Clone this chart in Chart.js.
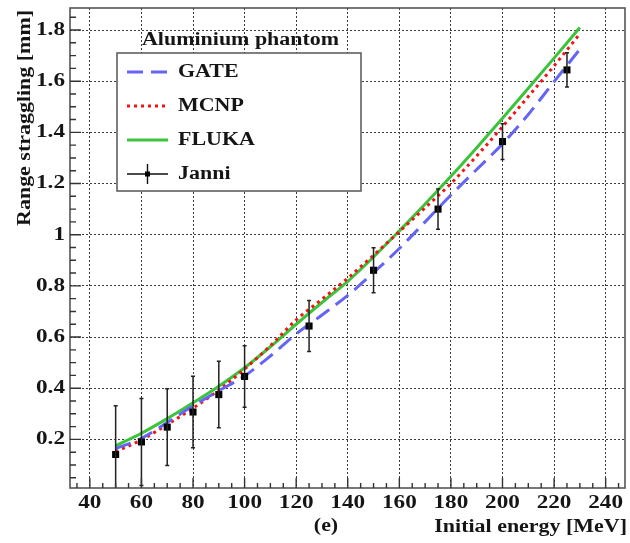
<!DOCTYPE html>
<html lang="en">
<head>
    <meta charset="UTF-8">
    <title>Range straggling - Aluminium phantom</title>
    <script src="https://cdn.jsdelivr.net/npm/chart.js"></script>
    <style>
        body {
            margin: 0;
            padding: 0;
            background: #ffffff;
        }

        #chartBox {
            width: 630px;
            height: 543px;
            position: relative;
        }
    </style>
</head>
<body>
    <div id="chartBox">
        <canvas id="stragglingChart"></canvas>
    </div>

    <script>
        // energies for the simulated curves [MeV]
        const energies = [50, 60, 70, 80, 90, 100, 110, 120, 130, 140, 150, 160, 170, 180, 190, 200, 210, 220, 230];
        const gateValues = [0.164, 0.204, 0.266, 0.331, 0.390, 0.448, 0.526, 0.612, 0.686, 0.763, 0.852, 0.946, 1.050, 1.155, 1.255, 1.355, 1.470, 1.598, 1.725];
        const mcnpValues = [0.152, 0.198, 0.258, 0.322, 0.393, 0.475, 0.566, 0.667, 0.748, 0.830, 0.920, 1.012, 1.105, 1.200, 1.308, 1.422, 1.540, 1.660, 1.785];
        const flukaValues = [0.175, 0.224, 0.281, 0.343, 0.408, 0.480, 0.562, 0.650, 0.735, 0.818, 0.913, 1.015, 1.120, 1.228, 1.340, 1.455, 1.572, 1.690, 1.810];

        // Janni tables with errors
        const janniEnergies = [50, 60, 70, 80, 90, 100, 125, 150, 175, 200, 225];
        const janniValues = [0.141, 0.190, 0.248, 0.307, 0.375, 0.446, 0.643, 0.861, 1.100, 1.364, 1.644];
        const janniErrors = [0.19, 0.17, 0.15, 0.14, 0.13, 0.12, 0.10, 0.088, 0.079, 0.07, 0.067];

        const xTicks = [40, 60, 80, 100, 120, 140, 160, 180, 200, 220, 240];
        const yTicks = [0.2, 0.4, 0.6, 0.8, 1, 1.2, 1.4, 1.6, 1.8];
        const yTickLabels = ['0.2', '0.4', '0.6', '0.8', '1', '1.2', '1.4', '1.6', '1.8'];

        const seriesNames = ['GATE', 'MCNP', 'FLUKA', 'Janni'];

        const toPoints = (xs, ys) => xs.map((x, i) => ({ x: x, y: ys[i] }));

        const SERIF = '"Liberation Serif", "Times New Roman", serif';
        const STRETCH = 1.22;

        function wideText(ctx, txt, x, y, align, size, rot) {
            ctx.save();
            ctx.translate(x, y);
            if (rot) ctx.rotate(rot);
            ctx.scale(STRETCH, 1);
            ctx.font = 'bold ' + size + 'px ' + SERIF;
            ctx.textAlign = align;
            ctx.textBaseline = 'middle';
            ctx.fillStyle = '#151515';
            ctx.fillText(txt, 0, 0);
            ctx.restore();
        }

        // ROOT-like frame, inner ticks, error bars, labels and legend
        const rootStyle = {
            id: 'rootStyle',
            afterDatasetsDraw(chart) {
                const ctx = chart.ctx;
                const area = chart.chartArea;
                const xs = chart.scales.x;
                const ys = chart.scales.y;

                // error bars for Janni
                ctx.save();
                ctx.beginPath();
                ctx.rect(area.left, area.top, area.right - area.left, area.bottom - area.top);
                ctx.clip();
                ctx.strokeStyle = '#222';
                ctx.lineWidth = 1.5;
                janniEnergies.forEach((e, i) => {
                    const px = xs.getPixelForValue(e);
                    const top = ys.getPixelForValue(janniValues[i] + janniErrors[i]);
                    const bot = ys.getPixelForValue(janniValues[i] - janniErrors[i]);
                    ctx.beginPath();
                    ctx.moveTo(px, top);
                    ctx.lineTo(px, bot);
                    ctx.moveTo(px - 2, top);
                    ctx.lineTo(px + 2, top);
                    ctx.moveTo(px - 2, bot);
                    ctx.lineTo(px + 2, bot);
                    ctx.stroke();
                });
                ctx.restore();

                // frame
                ctx.save();
                ctx.strokeStyle = '#555';
                ctx.lineWidth = 1.6;
                ctx.strokeRect(area.left, area.top, area.right - area.left, area.bottom - area.top);

                // inner ticks
                ctx.strokeStyle = '#333';
                ctx.lineWidth = 1.4;
                ctx.beginPath();
                for (let v = 35; v <= xs.max; v += 5) {
                    const px = xs.getPixelForValue(v);
                    const len = (v % 20 === 0) ? 10 : 5;
                    ctx.moveTo(px, area.bottom);
                    ctx.lineTo(px, area.bottom - len);
                }
                for (let k = 1; k * 0.05 <= ys.max; k++) {
                    const py = ys.getPixelForValue(k * 0.05);
                    const len = (k % 4 === 0) ? 11 : 6;
                    ctx.moveTo(area.left, py);
                    ctx.lineTo(area.left + len, py);
                }
                ctx.stroke();
                ctx.restore();

                // tick labels
                xTicks.forEach(v => {
                    wideText(ctx, String(v), xs.getPixelForValue(v), 503, 'center', 19);
                });
                yTicks.forEach((v, i) => {
                    wideText(ctx, yTickLabels[i], 65, ys.getPixelForValue(v), 'right', 19);
                });

                // axis titles
                wideText(ctx, 'Initial energy [MeV]', 627, 527, 'right', 18);
                wideText(ctx, '(e)', 326, 526, 'center', 18);
                wideText(ctx, 'Range straggling [mm]', 25, 10, 'right', 18, -Math.PI / 2);

                // legend
                wideText(ctx, 'Aluminium phantom', 142, 40, 'left', 18);
                ctx.save();
                ctx.fillStyle = '#ffffff';
                ctx.fillRect(117, 53, 244, 138);
                ctx.strokeStyle = '#555';
                ctx.lineWidth = 1.5;
                ctx.strokeRect(117, 53, 244, 138);
                ctx.restore();

                const rowY = [72, 106, 140, 174];
                chart.data.datasets.forEach((ds, i) => {
                    const y = rowY[i];
                    ctx.save();
                    if (ds.showLine === false) {
                        ctx.strokeStyle = '#111';
                        ctx.lineWidth = 1.4;
                        ctx.beginPath();
                        ctx.moveTo(127, y);
                        ctx.lineTo(168, y);
                        ctx.moveTo(147.5, y - 10);
                        ctx.lineTo(147.5, y + 10);
                        ctx.stroke();
                        ctx.fillStyle = '#000';
                        ctx.fillRect(145, y - 2.5, 5, 5);
                    } else {
                        ctx.strokeStyle = ds.borderColor;
                        ctx.lineWidth = ds.borderWidth;
                        ctx.setLineDash(ds.borderDash || []);
                        ctx.beginPath();
                        ctx.moveTo(127, y);
                        ctx.lineTo(168, y);
                        ctx.stroke();
                    }
                    ctx.restore();
                    wideText(ctx, ds.label, 178, y, 'left', 18);
                });
            }
        };

        const chartCanvas = document.getElementById('stragglingChart').getContext('2d');
        const stragglingChart = new Chart(chartCanvas, {
            type: 'line',
            data: {
                datasets: [
                    {
                        label: seriesNames[0],
                        data: toPoints(energies, gateValues),
                        borderColor: 'rgb(100, 100, 245)',
                        borderWidth: 3,
                        borderDash: [16, 8],
                        pointRadius: 0,
                        cubicInterpolationMode: 'monotone',
                        order: 1
                    },
                    {
                        label: seriesNames[1],
                        data: toPoints(energies, mcnpValues),
                        borderColor: 'rgb(240, 20, 20)',
                        borderWidth: 3,
                        borderDash: [3, 4],
                        pointRadius: 0,
                        cubicInterpolationMode: 'monotone',
                        order: 2
                    },
                    {
                        label: seriesNames[2],
                        data: toPoints(energies, flukaValues),
                        borderColor: 'rgb(60, 195, 60)',
                        borderWidth: 3,
                        pointRadius: 0,
                        cubicInterpolationMode: 'monotone',
                        order: 3
                    },
                    {
                        label: seriesNames[3],
                        data: toPoints(janniEnergies, janniValues),
                        showLine: false,
                        pointStyle: 'rect',
                        pointRadius: 5,
                        backgroundColor: '#000',
                        borderColor: '#000',
                        borderWidth: 0,
                        order: 0
                    }
                ]
            },
            options: {
                responsive: true,
                maintainAspectRatio: false,
                animation: false,
                layout: {
                    padding: { top: 8, right: 3, left: 0, bottom: 0 }
                },
                plugins: {
                    legend: { display: false },
                    tooltip: { enabled: false }
                },
                scales: {
                    x: {
                        type: 'linear',
                        min: 32.3,
                        max: 247.5,
                        afterBuildTicks: scale => {
                            scale.ticks = xTicks.map(v => ({ value: v }));
                        },
                        afterFit: scale => {
                            scale.height = 55;
                        },
                        ticks: { display: false },
                        grid: {
                            color: '#3a3a3a',
                            lineWidth: 1,
                            drawTicks: false
                        },
                        border: { display: false, dash: [2, 2] }
                    },
                    y: {
                        type: 'linear',
                        min: 0.01,
                        max: 1.886,
                        afterBuildTicks: scale => {
                            scale.ticks = yTicks.map(v => ({ value: v }));
                        },
                        afterFit: scale => {
                            scale.width = 70;
                        },
                        ticks: { display: false },
                        grid: {
                            color: '#3a3a3a',
                            lineWidth: 1,
                            drawTicks: false
                        },
                        border: { display: false, dash: [2, 2] }
                    }
                }
            },
            plugins: [rootStyle]
        });
    </script>
</body>
</html>
